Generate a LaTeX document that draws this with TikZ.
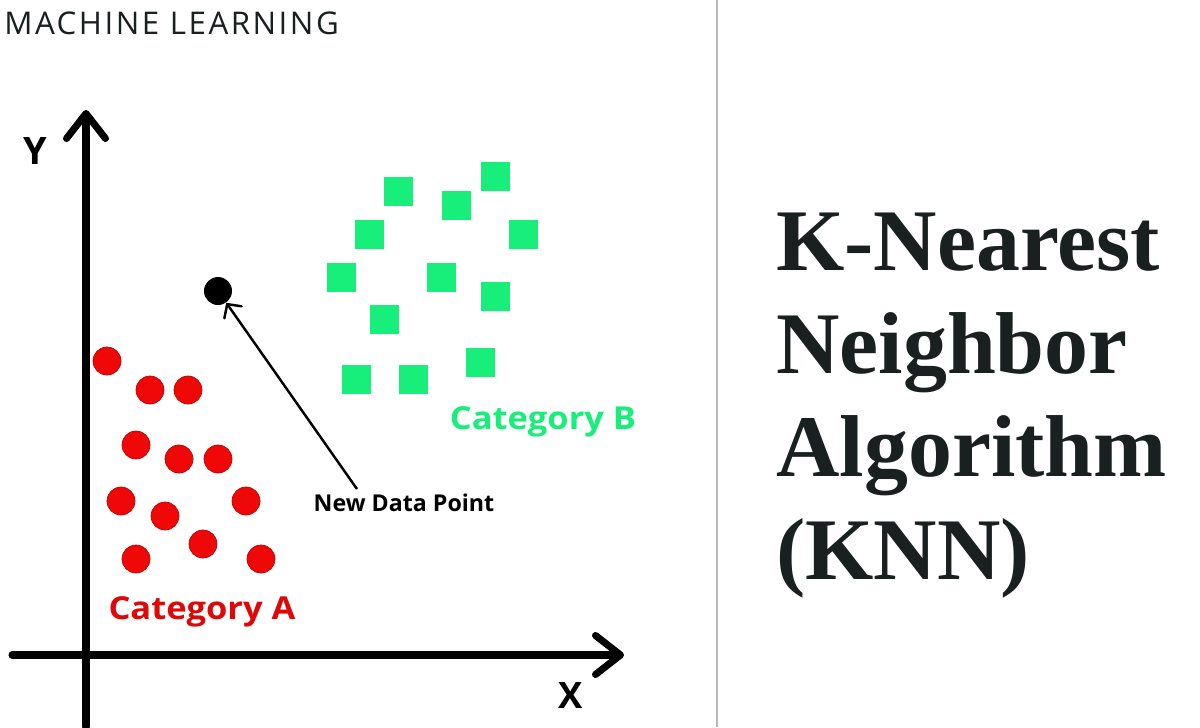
\documentclass[tikz,border=0pt]{standalone}
\usepackage{fontspec}
\usepackage{tikz}
\usetikzlibrary{arrows.meta,calc}
\setmainfont{Open Sans}
\newfontfamily\headfont[LetterSpace=8]{Open Sans}
\newfontfamily\catfont[FakeStretch=1.09]{Open Sans}
\newfontfamily\titlefont{Liberation Serif}
\definecolor{catA}{RGB}{240,8,8}
\definecolor{catAtext}{RGB}{222,8,8}
\definecolor{catB}{RGB}{24,238,122}
\definecolor{ink}{RGB}{26,31,32}
\tikzset{
  axis/.style={line width=4pt, line cap=round,
    -{Straight Barb[length=0.5cm, width=0.78cm, line cap=round, line join=round]}},
  pointer/.style={line width=1.4pt,
    -{Straight Barb[length=0.2cm, width=0.42cm, line cap=round]}},
  pointA/.style={circle, fill=catA, draw=catA!75!black, line width=0.4pt, minimum size=0.56cm, inner sep=0pt},
  pointB/.style={rectangle, fill=catB, minimum size=0.58cm, inner sep=0pt},
  newpoint/.style={circle, fill=black, minimum size=0.56cm, inner sep=0pt},
  label/.style={inner sep=0pt, font=\bfseries},
}

\begin{document}
\begin{tikzpicture}[x=0.02cm, y=-0.02cm]
  \useasboundingbox[fill=white] (0,0) rectangle (1200,727);
  % divider
  \coordinate (d1) at (717,0);
  \coordinate (d2) at (717,727);
  \draw[line width=1pt, black!28] (d1) -- (d2);

  \node[anchor=west, inner sep=0pt, font=\headfont\fontsize{17.8}{20}\selectfont, text=ink] (head) at (4,23) {MACHINE LEARNING};

  % axes
  \coordinate (ybot) at (86,727);
  \coordinate (ytop) at (86,110);
  \coordinate (xleft) at (12,655);
  \coordinate (xright) at (624,655);
  \draw[axis] (ybot) -- (ytop);
  \draw[axis] (xleft) -- (xright);
  \node[label, font=\bfseries\fontsize{21.5}{24}\selectfont] (ylab) at (35,151) {Y};
  \node[label, font=\bfseries\fontsize{20.7}{24}\selectfont] (xlab) at (571,696) {X};

  % category A
  \node[pointA] (a1) at (107,361) {};
  \node[pointA] (a2) at (150,390) {};
  \node[pointA] (a3) at (188,390) {};
  \node[pointA] (a4) at (136,445) {};
  \node[pointA] (a5) at (179,459) {};
  \node[pointA] (a6) at (218,459) {};
  \node[pointA] (a7) at (121,501) {};
  \node[pointA] (a8) at (165,516) {};
  \node[pointA] (a9) at (246,501) {};
  \node[pointA] (a10) at (203,544) {};
  \node[pointA] (a11) at (136,559) {};
  \node[pointA] (a12) at (261,559) {};

  % category B
  \node[pointB] (b1) at (398,191) {};
  \node[pointB] (b2) at (495,176) {};
  \node[pointB] (b3) at (456,205) {};
  \node[pointB] (b4) at (369,234) {};
  \node[pointB] (b5) at (523,234) {};
  \node[pointB] (b6) at (341,277) {};
  \node[pointB] (b7) at (441,277) {};
  \node[pointB] (b8) at (495,296) {};
  \node[pointB] (b9) at (384,319) {};
  \node[pointB] (b10) at (480,362) {};
  \node[pointB] (b11) at (356,379) {};
  \node[pointB] (b12) at (413,379) {};

  \node[label, anchor=base, text=catAtext, font=\catfont\bfseries\fontsize{18}{20}\selectfont] (la) at (202,619) {Category A};
  \node[label, anchor=base, text=catB, font=\catfont\bfseries\fontsize{18}{20}\selectfont] (lb) at (543,429) {Category B};

  % new data point
  \node[newpoint] (nd) at (218,291) {};
  \node[label, anchor=base, font=\bfseries\fontsize{13.2}{15}\selectfont] (nl) at (404,511) {New Data Point};
  \draw[pointer] ($(nl.north)+(-47,-4)$) -- (nd);

  % title
  \node[anchor=north west, inner sep=0pt, align=left, text=ink,
    font=\titlefont\bfseries\fontsize{50}{58.6}\selectfont] (title) at (776,213)
    {K-Nearest\\Neighbor\\Algorithm\\(KNN)};
\end{tikzpicture}
\end{document}
